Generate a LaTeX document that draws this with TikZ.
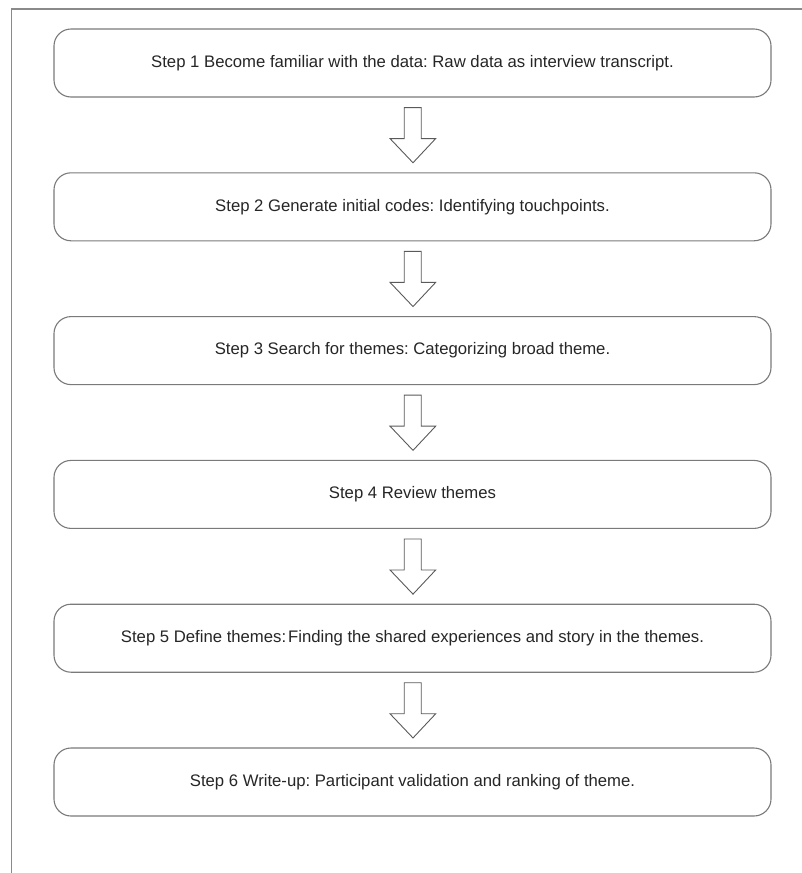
\documentclass[tikz,border=0pt]{standalone}
\usepackage{fontspec}
\setmainfont{Liberation Sans}
\usetikzlibrary{calc}
\definecolor{boxgray}{HTML}{7A7A7A}
\definecolor{arrgray}{HTML}{5A5A5A}
\definecolor{framegray}{HTML}{8A8A8A}
\begin{document}
\begin{tikzpicture}[x=1pt,y=-1pt,
  stepbox/.style={draw=boxgray, line width=1.1pt, rounded corners=17pt,
    minimum width=717pt, minimum height=68pt, inner sep=0pt,
    font=\frenchspacing\fontsize{16.7}{19}\selectfont, text=black!85},
  blockarrow/.style={draw=arrgray, line width=0.9pt, fill=white, line join=miter}]
\useasboundingbox (0,0) rectangle (802,873);
\fill[white] (0,0) rectangle (802,873);
\draw[framegray, line width=1.3pt] (11.5,873) -- (11.5,9) -- (802,9);
\node[stepbox] (s1) at (412.5,63) {Step 1 Become familiar with the data: Raw data as interview transcript.};
\node[stepbox] (s2) at (412.5,206.8) {Step 2 Generate initial codes: Identifying touchpoints.};
\node[stepbox] (s3) at (412.5,350.6) {Step 3 Search for themes: Categorizing broad theme.};
\node[stepbox] (s4) at (412.5,494.4) {Step 4 Review themes};
\node[stepbox] (s5) at (412.5,638.2) {Step 5 Define themes:\hspace{2pt}Finding the shared experiences and story in the themes.};
\node[stepbox] (s6) at (412.5,782) {Step 6 Write-up: Participant validation and ranking of theme.};
\foreach \a/\b in {s1/s2,s2/s3,s3/s4,s4/s5,s5/s6}{
  \coordinate (t) at ($(\b.north)+(0.5,-9.5)$);
  \draw[blockarrow] ($(\a.south)+(-8.3,10)$) -- ($(\a.south)+(8.7,10)$)
    -- ($(\a.south)+(8.7,41)$) -- ($(\a.south)+(23.2,41)$) -- (t)
    -- ($(\a.south)+(-22.5,41)$) -- ($(\a.south)+(-8.3,41)$) -- cycle;
}
\end{tikzpicture}
\end{document}
